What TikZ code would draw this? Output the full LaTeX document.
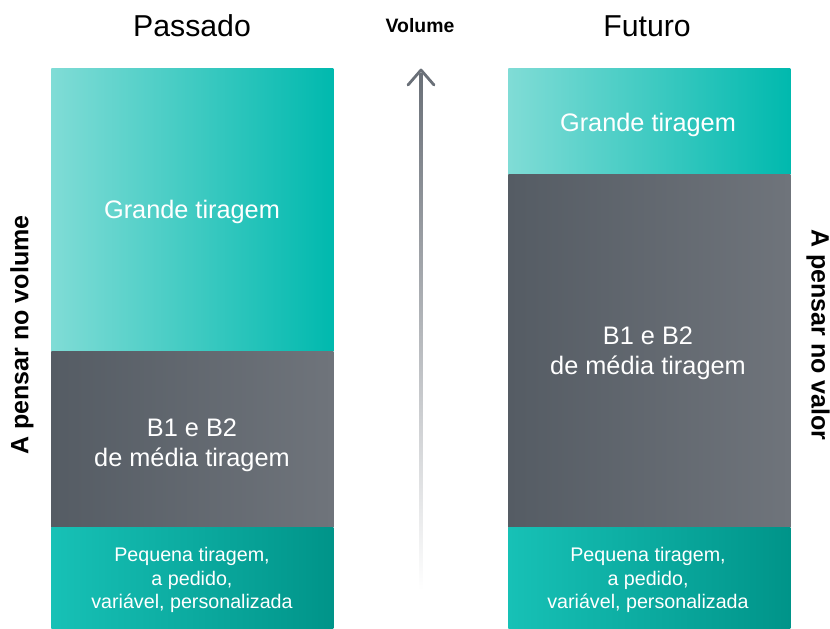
\documentclass[tikz,border=0pt]{standalone}
\usepackage{fontspec}
\setmainfont{Liberation Sans}
\definecolor{tealclaro}{HTML}{80DCD6}
\definecolor{tealforte}{HTML}{00B9AE}
\definecolor{tealmedio}{HTML}{17C1B6}
\definecolor{tealescuro}{HTML}{009489}
\definecolor{cinzaesc}{HTML}{555C64}
\definecolor{cinzaclaro}{HTML}{6F747B}
\definecolor{seta}{HTML}{6A7078}
\begin{document}
\begin{tikzpicture}[x=0.025cm,y=-0.025cm,line join=round,line cap=round,
    bloco/.style={anchor=north west,inner sep=0pt,minimum width=7.05cm},
    claro/.style={bloco,left color=tealclaro,right color=tealforte},
    cinza/.style={bloco,left color=cinzaesc,right color=cinzaclaro},
    fundo/.style={bloco,left color=tealmedio,right color=tealescuro,minimum height=2.525cm},
    texto/.style={text=white,align=center,font=\fontsize{18}{21.5}\selectfont},
    miudo/.style={texto,font=\fontsize{14}{17}\selectfont},
    titulo/.style={font=\fontsize{21.5}{24}\selectfont},
    lado/.style={font=\bfseries\fontsize{17.8}{20}\selectfont}]
    \useasboundingbox (0,0) rectangle (830,629);
    % coluna do passado
    \node[claro,minimum height=7.075cm] (grandeP) at (51,68) {};
    \node[cinza,minimum height=4.4cm] (mediaP) at (51,351) {};
    \node[fundo] (pequenaP) at (51,527) {};
    \node[texto] (txtGrandeP) at (192,212) {Grande tiragem};
    \node[texto] (txtMediaP) at (192,445) {B1 e B2\\de média tiragem};
    \node[miudo] (txtPequenaP) at (192,580) {Pequena tiragem,\\a pedido,\\variável, personalizada};
    % coluna do futuro
    \node[claro,minimum height=2.65cm] (grandeF) at (508,68) {};
    \node[cinza,minimum height=8.825cm] (mediaF) at (508,174) {};
    \node[fundo] (pequenaF) at (508,527) {};
    \node[texto] (txtGrandeF) at (648,125) {Grande tiragem};
    \node[texto] (txtMediaF) at (648,353) {B1 e B2\\de média tiragem};
    \node[miudo] (txtPequenaF) at (648,580) {Pequena tiragem,\\a pedido,\\variável, personalizada};
    % titulos
    \node[titulo] (passado) at (192,26) {Passado};
    \node[titulo] (futuro) at (647,26) {Futuro};
    \node[font=\bfseries\fontsize{13.8}{16}\selectfont] (volume) at (420,26) {Volume};
    \node[lado,rotate=90] (ladoP) at (22,335) {A pensar no volume};
    \node[lado,rotate=-90] (ladoF) at (818,335) {A pensar no valor};
    % seta do volume
    \coordinate (ponta) at (421,70);
    \coordinate (pe) at (421,590);
    \shade[top color=seta,bottom color=white] (419.5,74) rectangle (422.5,590);
    \draw[seta,line width=2pt] (408,85) -- (ponta) -- (434,85);
\end{tikzpicture}
\end{document}
